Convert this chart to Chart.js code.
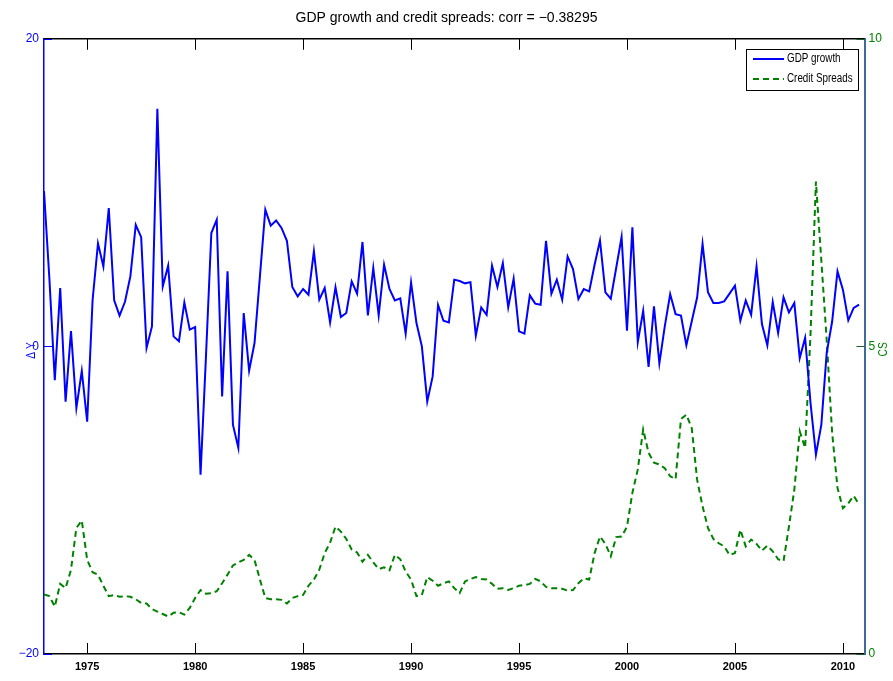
<!DOCTYPE html>
<html>
<head>
<meta charset="utf-8">
<title>GDP growth and credit spreads</title>
<script src="https://cdn.jsdelivr.net/npm/chart.js@4.4.1/dist/chart.umd.min.js"></script>
<style>
  html, body { margin: 0; padding: 0; background: #fff; }
  #wrap { width: 893px; height: 681px; }
</style>
</head>
<body>
<div id="wrap"><canvas id="gdpChart" width="893" height="681"></canvas></div>
<script>
// quarterly series, first quarter of 1973 onwards
const startYear = 1973

const gdpGrowth = [
  10.1, 4.4, -2.2, 3.8, -3.6, 1.0, -4.0, -1.6, -4.9, 3.0,
  6.7, 5.2, 9.0, 3.0, 2.0, 2.9, 4.55, 7.9, 7.1, -0.1,
  1.3, 15.45, 3.9, 5.25, 0.65, 0.33, 2.86, 1.09, 1.26, -8.34,
  -0.7, 7.37, 8.24, -3.25, 4.88, -5.09, -6.6, 2.17, -1.58, 0.22,
  4.55, 8.89, 7.85, 8.19, 7.7, 6.87, 3.86, 3.25, 3.73, 3.36,
  6.18, 3.04, 3.8, 1.56, 3.84, 1.91, 2.17, 4.23, 3.43, 6.79,
  2.02, 5.1, 2.02, 5.31, 3.73, 2.99, 3.12, 0.83, 4.16, 1.52,
  0.0, -3.58, -1.95, 2.69, 1.67, 1.56, 4.34, 4.25, 4.1, 4.18,
  0.7, 2.54, 2.06, 5.25, 3.86, 5.42, 2.54, 4.4, 0.98, 0.83,
  3.32, 2.78, 2.71, 6.87, 3.43, 4.34, 3.04, 5.85, 5.03, 3.08,
  3.73, 3.58, 5.31, 6.89, 3.51, 3.1, 5.1, 7.11, 1.02, 7.74,
  0.28, 2.32, -1.34, 2.6, -1.1, 1.3, 3.4, 2.1, 2.0, 0.07,
  1.63, 3.19, 6.66, 3.53, 2.82, 2.82, 2.93, 3.43, 3.95, 1.67,
  2.99, 2.06, 5.2, 1.45, 0.07, 2.88, 0.87, 3.19, 2.21, 2.82,
  -0.76, 0.56, -3.68, -7.04, -5.1, -0.4, 1.6, 4.88, 3.69, 1.69,
  2.5, 2.71
]

const creditSpreads = [
  0.97, 0.94, 0.77, 1.14, 1.07, 1.37, 2.05, 2.17, 1.53, 1.33,
  1.29, 1.11, 0.94, 0.96, 0.93, 0.94, 0.93, 0.89, 0.83, 0.82,
  0.73, 0.69, 0.65, 0.61, 0.67, 0.68, 0.64, 0.75, 0.91, 1.04,
  0.98, 0.99, 1.02, 1.15, 1.29, 1.44, 1.49, 1.53, 1.61, 1.53,
  1.21, 0.91, 0.89, 0.89, 0.88, 0.82, 0.91, 0.94, 0.96, 1.11,
  1.21, 1.37, 1.64, 1.81, 2.07, 1.99, 1.87, 1.7, 1.65, 1.5,
  1.61, 1.49, 1.38, 1.41, 1.36, 1.61, 1.54, 1.34, 1.21, 0.94,
  0.96, 1.25, 1.19, 1.11, 1.15, 1.18, 1.07, 0.99, 1.18, 1.22,
  1.25, 1.22, 1.21, 1.14, 1.06, 1.07, 1.04, 1.07, 1.11, 1.12,
  1.14, 1.22, 1.18, 1.09, 1.07, 1.07, 1.06, 1.03, 1.04, 1.15,
  1.23, 1.21, 1.64, 1.91, 1.79, 1.59, 1.9, 1.91, 2.07, 2.62,
  3.0, 3.65, 3.27, 3.11, 3.08, 3.02, 2.89, 2.84, 3.82, 3.89,
  3.67, 2.83, 2.4, 2.05, 1.87, 1.8, 1.75, 1.61, 1.64, 2.02,
  1.75, 1.86, 1.79, 1.68, 1.76, 1.67, 1.54, 1.51, 2.07, 2.67,
  3.62, 3.35, 5.2, 7.68, 6.4, 5.1, 3.6, 2.7, 2.37, 2.45,
  2.57, 2.43
]

const yearTicks = [1975, 1980, 1985, 1990, 1995, 2000, 2005, 2010]
const gdpTicks = [-20, 0, 20]
const csTicks = [0, 5, 10]

const quarters = gdpGrowth.map((_, i) => startYear + i / 4)

const BLUE = "#0000ff"
const GREEN = "#008000"
const FONT = '"Liberation Sans", Arial, sans-serif'

// text squeezed sideways, the axes fonts are a narrow face
function narrowText(ctx, text, x, y, squeeze, rotate) {
  ctx.save()
  ctx.translate(x, y)
  if (rotate) ctx.rotate(-Math.PI / 2)
  ctx.scale(squeeze, 1)
  ctx.fillText(text, 0, 0)
  ctx.restore()
}

// inward tick marks, top border, axis labels and the boxed legend
const matlabAxes = {
  id: "matlabAxes",
  afterDatasetsDraw(chart) {
    const { ctx, chartArea, scales } = chart
    const { left, right, top, bottom } = chartArea
    ctx.save()

    ctx.strokeStyle = "#000"
    ctx.lineWidth = 1.5
    ctx.beginPath()
    ctx.moveTo(left, top)
    ctx.lineTo(right, top)
    ctx.stroke()

    ctx.lineWidth = 1
    ctx.beginPath()
    yearTicks.forEach((v) => {
      const px = Math.round(scales.x.getPixelForValue(v)) + 0.5
      ctx.moveTo(px, bottom)
      ctx.lineTo(px, bottom - 11)
      ctx.moveTo(px, top)
      ctx.lineTo(px, top + 11)
    })
    ctx.stroke()

    ctx.strokeStyle = BLUE
    ctx.beginPath()
    gdpTicks.forEach((v) => {
      const py = Math.round(scales.y.getPixelForValue(v)) + 0.5
      ctx.moveTo(left, py)
      ctx.lineTo(left + 8, py)
    })
    ctx.stroke()

    ctx.strokeStyle = "#1e5a2a"
    ctx.beginPath()
    csTicks.forEach((v) => {
      const py = Math.round(scales.y1.getPixelForValue(v)) + 0.5
      ctx.moveTo(right, py)
      ctx.lineTo(right - 8, py)
    })
    ctx.stroke()

    // axis titles
    ctx.font = "12px " + FONT
    ctx.textAlign = "center"
    ctx.textBaseline = "middle"
    const midY = scales.y.getPixelForValue(0)
    ctx.fillStyle = BLUE
    narrowText(ctx, "\u0394 Y", 32, midY + 4, 0.85, true)
    ctx.fillStyle = GREEN
    narrowText(ctx, "CS", 884, midY + 3, 0.85, true)

    // legend box
    const bx = 746, by = 49, bw = 112, bh = 41
    ctx.fillStyle = "#fff"
    ctx.fillRect(bx, by, bw, bh)
    ctx.strokeStyle = "#000"
    ctx.lineWidth = 1
    ctx.strokeRect(bx + 0.5, by + 0.5, bw, bh)
    const rows = [
      { label: "GDP growth", color: BLUE, dash: [], y: by + 10 },
      { label: "Credit Spreads", color: GREEN, dash: [6, 4], y: by + 30 },
    ]
    ctx.font = "12px " + FONT
    ctx.textAlign = "left"
    rows.forEach((r) => {
      ctx.strokeStyle = r.color
      ctx.lineWidth = 2
      ctx.setLineDash(r.dash)
      ctx.beginPath()
      ctx.moveTo(bx + 7, r.y)
      ctx.lineTo(bx + 38, r.y)
      ctx.stroke()
      ctx.setLineDash([])
      ctx.fillStyle = "#000"
      narrowText(ctx, r.label, bx + 41, r.y, 0.82, false)
    })

    ctx.restore()
  },
}

const ctx = document.getElementById("gdpChart")
new Chart(ctx, {
  type: "line",
  data: {
    datasets: [
      {
        label: "GDP growth",
        data: quarters.map((q, i) => ({ x: q, y: gdpGrowth[i] })),
        borderColor: BLUE,
        borderWidth: 2,
        pointRadius: 0,
        tension: 0,
        yAxisID: "y",
      },
      {
        label: "Credit Spreads",
        data: quarters.map((q, i) => ({ x: q, y: creditSpreads[i] })),
        borderColor: GREEN,
        borderWidth: 2,
        borderDash: [6, 4],
        pointRadius: 0,
        tension: 0,
        yAxisID: "y1",
      },
    ],
  },
  options: {
    responsive: false,
    animation: false,
    layout: { padding: 0 },
    plugins: {
      legend: { display: false },
      tooltip: { enabled: false },
      title: {
        display: true,
        text: "GDP growth and credit spreads: corr = \u22120.38295",
        color: "#000",
        font: { family: FONT, size: 14, weight: "normal" },
        padding: { top: 10, bottom: 12 },
      },
    },
    scales: {
      x: {
        type: "linear",
        min: 1973,
        max: 2011,
        afterBuildTicks: (s) => { s.ticks = yearTicks.map((v) => ({ value: v })) },
        afterFit: (s) => { s.height = 27 },
        grid: { display: false, drawTicks: false },
        border: { color: "#000", width: 1.5 },
        ticks: {
          color: "#000",
          padding: 6,
          maxRotation: 0,
          autoSkip: false,
          font: { family: FONT, size: 11, weight: "bold" },
          callback: (v) => String(v),
        },
      },
      y: {
        position: "left",
        min: -20,
        max: 20,
        afterBuildTicks: (s) => { s.ticks = gdpTicks.map((v) => ({ value: v })) },
        afterFit: (s) => { s.width = 44 },
        grid: { display: false, drawTicks: false },
        border: { color: BLUE, width: 1.5 },
        ticks: {
          color: BLUE,
          padding: 5,
          font: { family: FONT, size: 12 },
          callback: (v) => (v < 0 ? "\u2212" + Math.abs(v) : String(v)),
        },
      },
      y1: {
        position: "right",
        min: 0,
        max: 10,
        afterBuildTicks: (s) => { s.ticks = csTicks.map((v) => ({ value: v })) },
        afterFit: (s) => { s.width = 28.5 },
        grid: { display: false, drawTicks: false },
        border: { color: "#3d6b9a", width: 2 },
        ticks: {
          color: GREEN,
          padding: 4,
          font: { family: FONT, size: 12 },
        },
      },
    },
  },
  plugins: [matlabAxes],
})
</script>
</body>
</html>
